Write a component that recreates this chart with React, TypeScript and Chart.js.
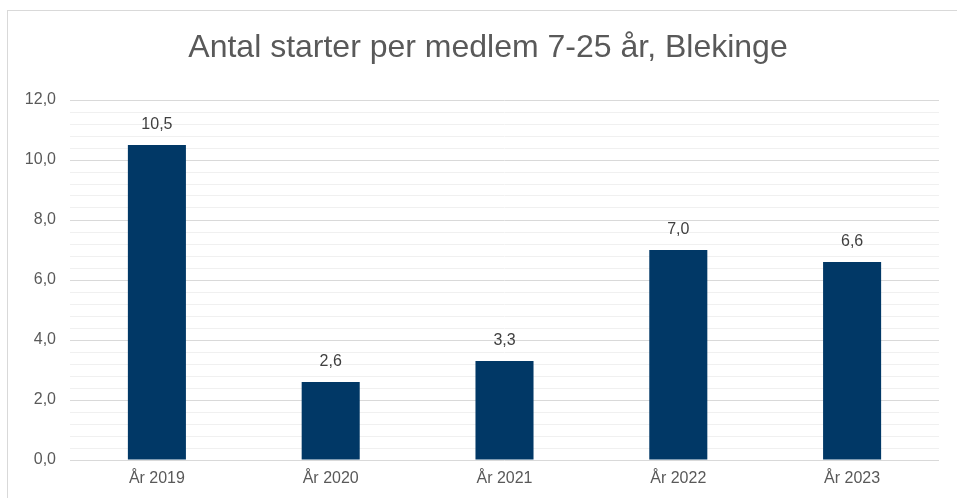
import React, { useEffect, useRef } from "react";
import { Chart, registerables } from "chart.js";

Chart.register(...registerables);

const title = "Antal starter per medlem 7-25 år, Blekinge";
const categories = ["År 2019", "År 2020", "År 2021", "År 2022", "År 2023"];
const values = [10.5, 2.6, 3.3, 7.0, 6.6];
const yMin = 0;
const yMax = 12;
const yMinorStep = 0.4;
const yMajorStep = 2;

const FONT = "'Liberation Sans', Arial, sans-serif";
const fmt = (v: number) => v.toFixed(1).replace(".", ",");
const isMajor = (v: number) => Math.abs(v / yMajorStep - Math.round(v / yMajorStep)) < 1e-6;

const dataLabels = {
  id: "dataLabels",
  afterDatasetsDraw(chart: any) {
    const ctx = chart.ctx;
    ctx.save();
    ctx.font = `16px ${FONT}`;
    ctx.fillStyle = "#404040";
    ctx.textAlign = "center";
    ctx.textBaseline = "middle";
    chart.getDatasetMeta(0).data.forEach((bar: any, i: number) => {
      ctx.fillText(fmt(values[i]), bar.x, bar.y - 20);
    });
    ctx.restore();
  },
};

const chartTitle = {
  id: "chartTitle",
  afterDraw(chart: any) {
    const ctx = chart.ctx;
    ctx.save();
    ctx.font = `32px ${FONT}`;
    ctx.fillStyle = "#595959";
    ctx.textAlign = "center";
    ctx.textBaseline = "middle";
    ctx.fillText(title, 488, 48);
    ctx.restore();
  },
};

export default function App() {
  const ref = useRef<HTMLCanvasElement | null>(null);
  useEffect(() => {
    if (!ref.current) return;
    const chart = new Chart(ref.current, {
      type: "bar",
      data: {
        labels: categories,
        datasets: [
          {
            data: values,
            backgroundColor: "#013866",
            barPercentage: 0.334,
            categoryPercentage: 1,
          },
        ],
      },
      options: {
        animation: false,
        responsive: false,
        devicePixelRatio: 1,
        layout: { padding: { left: 0, right: 38, top: 100, bottom: 0 } },
        plugins: {
          legend: { display: false },
          tooltip: { enabled: false },
          title: { display: false },
        },
        scales: {
          x: {
            grid: { display: false, drawTicks: false },
            border: { display: false },
            ticks: {
              color: "#595959",
              font: { family: FONT, size: 16 },
              padding: 9,
              maxRotation: 0,
            },
            afterFit: (s: any) => {
              s.height = 38;
            },
          },
          y: {
            min: yMin,
            max: yMax,
            border: { display: false },
            grid: {
              drawTicks: false,
              color: (c: any) => (c.tick && isMajor(c.tick.value) ? "#d9d9d9" : "#f0f0f0"),
              lineWidth: 1,
            },
            ticks: {
              stepSize: yMinorStep,
              autoSkip: false,
              color: "#595959",
              font: { family: FONT, size: 16 },
              padding: 14,
              callback: (v: any) => (isMajor(Number(v)) ? fmt(Number(v)) : ""),
            },
            afterFit: (s: any) => {
              s.width = 70;
            },
          },
        },
      },
      plugins: [dataLabels, chartTitle],
    });
    return () => chart.destroy();
  }, []);

  return (
    <div
      style={{
        position: "fixed",
        left: 0,
        top: 0,
        width: 957,
        height: 498,
        overflow: "hidden",
        background: "#ffffff",
      }}
    >
      <div
        style={{
          position: "absolute",
          left: 7,
          top: 10,
          width: 1000,
          height: 600,
          border: "1px solid #d9d9d9",
          boxSizing: "border-box",
        }}
      />
      <canvas
        ref={ref}
        width={977}
        height={498}
        style={{ position: "absolute", left: 0, top: 0, width: 977, height: 498 }}
      />
    </div>
  );
}
